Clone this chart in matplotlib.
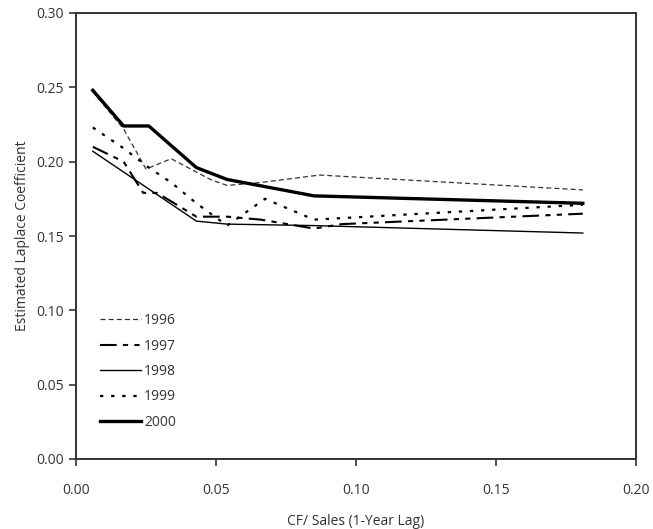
import matplotlib
matplotlib.use("Agg")
import matplotlib.pyplot as plt

plt.rcParams['font.family'] = ['Open Sans', 'DejaVu Sans']

# Data
x_1996 = [0.006, 0.017, 0.025, 0.034, 0.048, 0.054, 0.066, 0.087, 0.181]
y_1996 = [0.247, 0.222, 0.195, 0.202, 0.188, 0.184, 0.186, 0.191, 0.181]

x_1997 = [0.006, 0.017, 0.024, 0.029, 0.043, 0.054, 0.066, 0.085, 0.095, 0.181]
y_1997 = [0.210, 0.200, 0.179, 0.179, 0.163, 0.163, 0.161, 0.155, 0.158, 0.165]

x_1998 = [0.006, 0.043, 0.054, 0.085, 0.181]
y_1998 = [0.207, 0.160, 0.158, 0.157, 0.152]

x_1999 = [0.006, 0.017, 0.026, 0.034, 0.043, 0.054, 0.0675, 0.085, 0.181]
y_1999 = [0.223, 0.209, 0.196, 0.186, 0.172, 0.157, 0.175, 0.161, 0.171]

x_2000 = [0.006, 0.017, 0.026, 0.043, 0.054, 0.085, 0.181]
y_2000 = [0.248, 0.224, 0.224, 0.196, 0.188, 0.177, 0.172]

x_ticks = [0.00, 0.05, 0.10, 0.15, 0.20]
y_ticks = [0.00, 0.05, 0.10, 0.15, 0.20, 0.25, 0.30]

fig = plt.figure(figsize=(6.53, 5.29), dpi=100)
ax = fig.add_axes([76/653, 70/529, 560/653, 446/529])

ax.plot(x_1996, y_1996, color='#333333', lw=0.9, dashes=(4, 2.5), label='1996')
ax.plot(x_1997, y_1997, color='black', lw=1.5, dashes=(8, 3, 2.5, 3, 2.5, 3), label='1997')
ax.plot(x_1998, y_1998, color='black', lw=1.0, label='1998')
ax.plot(x_1999, y_1999, color='black', lw=1.6, dashes=(1.5, 3.5), label='1999')
ax.plot(x_2000, y_2000, color='black', lw=2.4, label='2000')

ax.set_xlim(0, 0.20)
ax.set_ylim(0, 0.30)
ax.set_xticks(x_ticks)
ax.set_xticklabels([f"{v:.2f}" for v in x_ticks])
ax.set_yticks(y_ticks)
ax.set_yticklabels([f"{v:.2f}" for v in y_ticks])
ax.tick_params(axis='both', direction='out', length=5, width=1.2, labelsize=10, colors='#333333')
ax.tick_params(axis='x', pad=12)
ax.tick_params(axis='y', pad=4)
for s in ax.spines.values():
    s.set_linewidth(1.4)
    s.set_color('#333333')

ax.set_xlabel('CF/ Sales (1-Year Lag)', fontsize=10, color='#333333', labelpad=12)
ax.set_ylabel('Estimated Laplace Coefficient', fontsize=10, color='#333333', labelpad=4)

leg = ax.legend(loc='upper left', bbox_to_anchor=(0.02, 0.355), frameon=False,
                handlelength=3.0, handletextpad=0.2, labelspacing=0.75, fontsize=10)
for t in leg.get_texts():
    t.set_color('#333333')

fig.savefig('out.png', dpi=100)
